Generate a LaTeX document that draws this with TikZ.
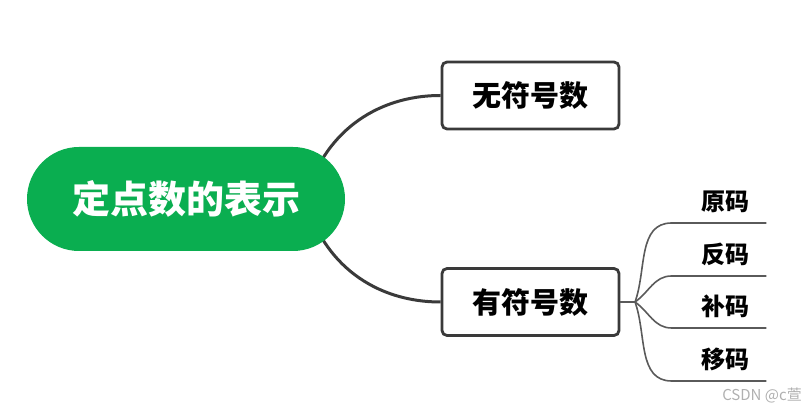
\documentclass[tikz,border=0pt]{standalone}
\usepackage{fontspec}
\setmainfont{Noto Sans CJK SC}
\usetikzlibrary{backgrounds}
\definecolor{mmGreen}{HTML}{0AAE50}
\definecolor{mmLine}{HTML}{3A3A3A}
\definecolor{mmLeaf}{HTML}{5A5A5A}
\definecolor{mmMark}{HTML}{B0B0B0}

\begin{document}
\begin{tikzpicture}[x=0.5pt,y=0.5pt,
  root/.style={fill=mmGreen,text=white,rounded corners=26pt,minimum width=159pt,minimum height=52pt,font=\fontsize{19}{19}\selectfont\bfseries},
  topic/.style={draw=mmLine,line width=1.4pt,fill=white,rounded corners=2.5pt,minimum width=88.5pt,minimum height=33.5pt,font=\fontsize{14.5}{14.5}\selectfont\bfseries},
  leaf/.style={anchor=south,minimum width=41pt,inner xsep=0pt,inner ysep=5pt,font=\fontsize{12}{12}\selectfont\bfseries},
  branch/.style={draw=mmLine,line width=1.5pt},
  twig/.style={draw=mmLeaf,line width=0.8pt},
  wmark/.style={text=mmMark,font=\fontsize{7.5}{7.5}\selectfont}]
\useasboundingbox (0,0) rectangle (812,411);
\node[root] (root) at (186,212) {定点数的表示};
\node[topic] (unsig) at (530.5,315.5) {无符号数};
\node[topic] (sig) at (530.5,109) {有符号数};
\coordinate (fork) at (635,109);
\node[leaf] (yuan) at (725,188) {原码};
\node[leaf] (fan) at (725,135) {反码};
\node[leaf] (bu) at (725,83) {补码};
\node[leaf] (yi) at (725,30) {移码};
\node[wmark] (csdn) at (762,16) {CSDN @c萱};
\begin{scope}[on background layer]
\draw[branch] ([xshift=-20pt]root.east) to[out=75,in=180] (unsig.west);
\draw[branch] ([xshift=-20pt]root.east) to[out=-75,in=180] (sig.west);
\end{scope}
\draw[twig] (sig.east) -- (fork);
\foreach \n/\a in {yuan/70,fan/35,bu/-35,yi/-70}
  \draw[twig] (fork) to[out=\a,in=180] ([xshift=-6pt]\n.south west) -- (\n.south east);
\end{tikzpicture}
\end{document}
